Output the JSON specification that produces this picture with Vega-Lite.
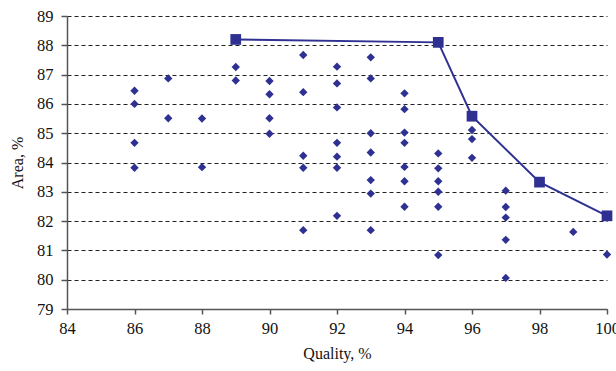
{
  "$schema": "https://vega.github.io/schema/vega-lite/v6.json",
  "width": 540,
  "height": 293,
  "autosize": "none",
  "padding": {"left": 67, "top": 16, "right": 9, "bottom": 62},
  "background": "white",
  "config": {
    "view": {"stroke": null},
    "axis": {
      "labelFont": "Liberation Serif",
      "titleFont": "Liberation Serif",
      "labelFontSize": 16.5,
      "titleFontSize": 16,
      "titleFontWeight": "normal",
      "labelColor": "#111",
      "titleColor": "#111",
      "domainColor": "#555",
      "domainWidth": 1.5,
      "tickColor": "#555",
      "tickWidth": 1.5,
      "tickSize": 5
    }
  },
  "datasets": {
    "points": [
      {"q": 86, "a": 86.45}, {"q": 86, "a": 86.0}, {"q": 86, "a": 84.67}, {"q": 86, "a": 83.82},
      {"q": 87, "a": 86.87}, {"q": 87, "a": 85.51},
      {"q": 88, "a": 85.5}, {"q": 88, "a": 83.84},
      {"q": 89, "a": 87.26}, {"q": 89, "a": 86.8},
      {"q": 90, "a": 86.78}, {"q": 90, "a": 86.33}, {"q": 90, "a": 85.51}, {"q": 90, "a": 84.98},
      {"q": 91, "a": 87.67}, {"q": 91, "a": 86.4}, {"q": 91, "a": 84.23}, {"q": 91, "a": 83.82}, {"q": 91, "a": 81.69},
      {"q": 92, "a": 87.27}, {"q": 92, "a": 86.7}, {"q": 92, "a": 85.88}, {"q": 92, "a": 84.67}, {"q": 92, "a": 84.2}, {"q": 92, "a": 83.82}, {"q": 92, "a": 82.18},
      {"q": 93, "a": 87.59}, {"q": 93, "a": 86.87}, {"q": 93, "a": 85.0}, {"q": 93, "a": 84.34}, {"q": 93, "a": 83.4}, {"q": 93, "a": 82.94}, {"q": 93, "a": 81.69},
      {"q": 94, "a": 86.36}, {"q": 94, "a": 85.82}, {"q": 94, "a": 85.02}, {"q": 94, "a": 84.67}, {"q": 94, "a": 83.85}, {"q": 94, "a": 83.36}, {"q": 94, "a": 82.49},
      {"q": 95, "a": 84.31}, {"q": 95, "a": 83.8}, {"q": 95, "a": 83.36}, {"q": 95, "a": 83.0}, {"q": 95, "a": 82.49}, {"q": 95, "a": 80.84},
      {"q": 96, "a": 85.11}, {"q": 96, "a": 84.8}, {"q": 96, "a": 84.16},
      {"q": 97, "a": 83.04}, {"q": 97, "a": 82.48}, {"q": 97, "a": 82.12}, {"q": 97, "a": 81.36}, {"q": 97, "a": 80.06},
      {"q": 99, "a": 81.63},
      {"q": 100, "a": 80.86}
    ],
    "front": [
      {"q": 89, "a": 88.2}, {"q": 95, "a": 88.1}, {"q": 96, "a": 85.58}, {"q": 98, "a": 83.33}, {"q": 100, "a": 82.18}
    ]
  },
  "encoding": {
    "x": {
      "field": "q", "type": "quantitative",
      "scale": {"domain": [84, 100], "nice": false, "zero": false},
      "axis": {"title": "Quality, %", "values": [84, 86, 88, 90, 92, 94, 96, 98, 100], "grid": false, "labelPadding": 6, "titlePadding": 9, "labelOverlap": false, "labelFlush": false}
    },
    "y": {
      "field": "a", "type": "quantitative",
      "scale": {"domain": [79, 89], "nice": false, "zero": false},
      "axis": {"title": "Area, %", "values": [79, 80, 81, 82, 83, 84, 85, 86, 87, 88, 89], "grid": true, "gridColor": "#222", "gridDash": [4, 3], "gridWidth": 1, "tickSize": 6, "labelPadding": 8, "titlePadding": 11}
    }
  },
  "layer": [
    {
      "data": {"name": "points"},
      "mark": {"type": "point", "shape": "diamond", "filled": true, "size": 70, "color": "#2e3192", "opacity": 1}
    },
    {
      "data": {"name": "front"},
      "mark": {"type": "line", "color": "#2e3192", "strokeWidth": 2}
    },
    {
      "data": {"name": "front"},
      "mark": {"type": "point", "shape": "square", "filled": true, "size": 115, "color": "#2e3192", "opacity": 1}
    }
  ]
}
